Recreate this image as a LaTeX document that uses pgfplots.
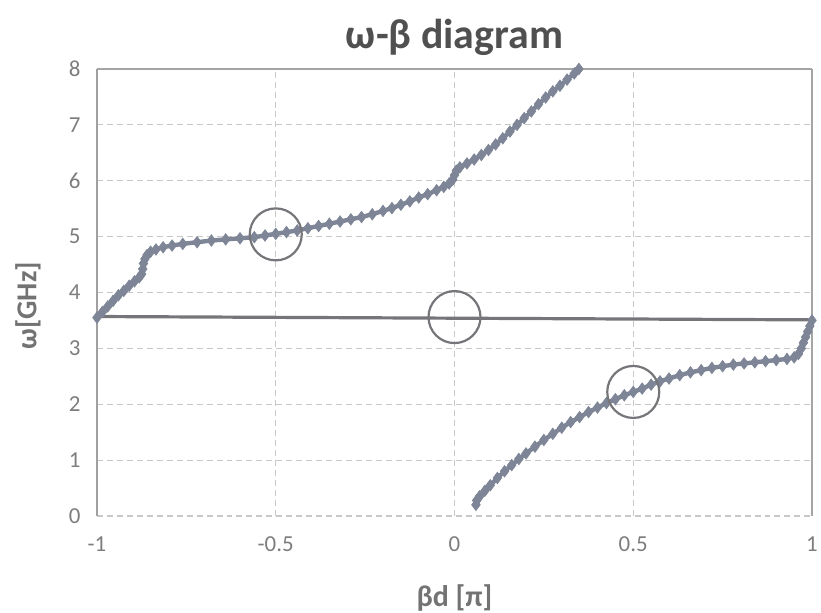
\documentclass[border=0pt]{standalone}
\usepackage{fontspec}
\setmainfont{Carlito}
\usepackage{pgfplots}
\pgfplotsset{compat=1.18}
\definecolor{curve}{RGB}{125,133,150}
\definecolor{hline}{RGB}{118,118,122}
\definecolor{gridc}{RGB}{200,200,200}
\definecolor{frame}{RGB}{165,165,165}
\definecolor{ticktxt}{RGB}{125,125,125}
\definecolor{titletxt}{RGB}{80,80,80}
\begin{document}
\begin{tikzpicture}
\begin{axis}[
  scale only axis,
  width=357.5bp, height=223.5bp,
  xmin=-1, xmax=1, ymin=0, ymax=8,
  xtick={-1,-0.5,0,0.5,1},
  xticklabels={-1,-0.5,0,0.5,1},
  ytick={0,1,2,3,4,5,6,7,8},
  yticklabels={0,1,2,3,4,5,6,7,8},
  major tick length=0pt,
  axis line style={draw=none},
  grid=major,
  major grid style={gridc, densely dashed, line width=0.6bp},
  tick label style={font=\fontsize{11.5}{13}\selectfont, text=ticktxt},
  yticklabel style={inner sep=0pt, xshift=-8bp},
  xticklabel style={inner sep=0pt, yshift=-10bp},
  clip=false,
]
% frame lines
\draw[frame, line width=1bp] (rel axis cs:0,1) -- (rel axis cs:1,1);
\draw[gridc!80!black, line width=0.8bp] (rel axis cs:0,0) -- (rel axis cs:0,1);
\draw[frame, line width=1bp] (rel axis cs:1,0) -- (rel axis cs:1,1);

% horizontal line
\addplot[hline, line width=1.6bp, no marks] coordinates {(-1,3.57) (1,3.51)};

% upper branch
\addplot[curve, line width=2.2bp, mark=diamond*, mark size=2.9bp, mark options={fill=curve, draw=curve, line width=0.3bp}] coordinates {
(-1.000,3.55) (-0.985,3.65) (-0.970,3.75) (-0.955,3.85) (-0.940,3.95)
(-0.925,4.03) (-0.910,4.12) (-0.895,4.20) (-0.882,4.27) (-0.875,4.33)
(-0.872,4.42) (-0.870,4.52) (-0.866,4.60) (-0.860,4.67) (-0.850,4.73)
(-0.835,4.77) (-0.815,4.81) (-0.790,4.84) (-0.760,4.87) (-0.720,4.90)
(-0.680,4.93) (-0.640,4.95) (-0.600,4.97) (-0.560,4.99) (-0.530,5.02)
(-0.500,5.05) (-0.470,5.08) (-0.440,5.11) (-0.410,5.15) (-0.380,5.19)
(-0.350,5.23) (-0.320,5.27) (-0.290,5.31) (-0.260,5.35) (-0.230,5.40)
(-0.200,5.46) (-0.175,5.51) (-0.150,5.57) (-0.125,5.63) (-0.100,5.70)
(-0.075,5.76) (-0.050,5.83) (-0.030,5.89) (-0.015,5.95) (-0.005,6.02)
(0.000,6.10) (0.005,6.18) (0.015,6.24) (0.035,6.31) (0.055,6.38)
(0.075,6.46) (0.095,6.55) (0.115,6.65) (0.135,6.76) (0.155,6.88)
(0.175,7.00) (0.195,7.12) (0.215,7.24) (0.235,7.37) (0.255,7.49)
(0.275,7.60) (0.295,7.70) (0.315,7.81) (0.335,7.92) (0.348,8.00)
};

% lower branch
\addplot[curve, line width=2.2bp, mark=diamond*, mark size=2.9bp, mark options={fill=curve, draw=curve, line width=0.3bp}] coordinates {
(0.060,0.20) (0.062,0.28) (0.070,0.35) (0.085,0.45) (0.100,0.55)
(0.120,0.68) (0.140,0.80) (0.160,0.91) (0.180,1.02) (0.200,1.12)
(0.225,1.24) (0.250,1.36) (0.275,1.47) (0.300,1.58) (0.325,1.68)
(0.350,1.77) (0.375,1.86) (0.400,1.94) (0.425,2.02) (0.450,2.09)
(0.475,2.16) (0.500,2.22) (0.525,2.28) (0.550,2.35) (0.575,2.41)
(0.600,2.46) (0.630,2.52) (0.660,2.57) (0.690,2.61) (0.720,2.65)
(0.750,2.68) (0.780,2.71) (0.810,2.73) (0.840,2.75) (0.870,2.77)
(0.900,2.79) (0.930,2.81) (0.950,2.84) (0.962,2.90) (0.970,3.00)
(0.976,3.10) (0.982,3.20) (0.988,3.30) (0.994,3.40) (1.000,3.50)
};

% circles
\addplot[only marks, mark=o, mark size=13bp, mark options={hline, line width=1.1bp}] coordinates {(-0.5,5.04) (0,3.56) (0.5,2.22)};

% texts
\node[font=\fontsize{21}{24}\selectfont\bfseries, text=titletxt] at ([yshift=16bp]rel axis cs:0.5,1) {ω-β diagram};
\node[font=\fontsize{14.5}{16}\selectfont\bfseries, text=titletxt!80!white, rotate=90] at ([xshift=-34.5bp]rel axis cs:0,0.47) {ω[GHz]};
\node[font=\fontsize{15}{16}\selectfont\bfseries, text=titletxt!80!white] at ([yshift=-41bp]rel axis cs:0.5,0) {βd [π]};

\coordinate (bbsw) at ([xshift=-48.5bp, yshift=-48.5bp]rel axis cs:0,0);
\coordinate (bbne) at ([xshift=4.5bp, yshift=34.5bp]rel axis cs:1,1);
\end{axis}
\pgfresetboundingbox
\path[use as bounding box] (bbsw) rectangle (bbne);
\end{tikzpicture}
\end{document}
